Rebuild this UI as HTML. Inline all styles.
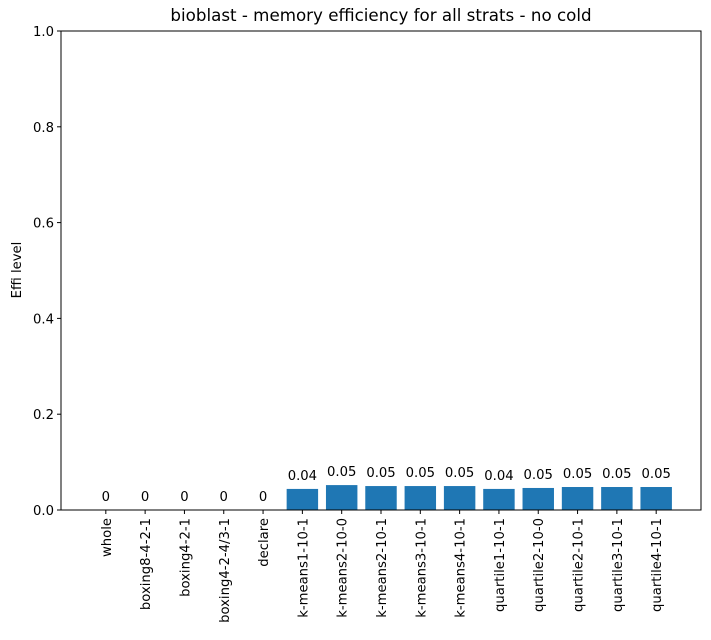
<!DOCTYPE html>
<html><head><meta charset="utf-8"><style>body{margin:0;background:#fff}svg{display:block;font-family:"DejaVu Sans","Liberation Sans",sans-serif}</style></head>
<body>
<svg id="chart" width="711" height="640">
<rect x="0" y="0" width="711" height="640" fill="#fff"/>
<text x="381" y="21" text-anchor="middle" font-size="16.7">bioblast - memory efficiency for all strats - no cold</text>
<text transform="translate(21,270) rotate(-90)" text-anchor="middle" font-size="13.2">Effi level</text>
<g id="bars"></g><g id="axes"></g>
</svg>
<script>
const categories = ["whole","boxing8-4-2-1","boxing4-2-1","boxing4-2-4/3-1","declare","k-means1-10-1","k-means2-10-0","k-means2-10-1","k-means3-10-1","k-means4-10-1","quartile1-10-1","quartile2-10-0","quartile2-10-1","quartile3-10-1","quartile4-10-1"];
const values = [0,0,0,0,0,0.044,0.052,0.050,0.050,0.050,0.044,0.046,0.048,0.048,0.048];
const labels = ["0","0","0","0","0","0.04","0.05","0.05","0.05","0.05","0.04","0.05","0.05","0.05","0.05"];
const yTicks = [0,0.2,0.4,0.6,0.8,1.0];
const yTickLabels = ["0.0","0.2","0.4","0.6","0.8","1.0"];

const L=61,R=701,T=31,B=510;
const xmin=-1.14,xmax=categories.length-1+1.14;
const x=i=>L+(i-xmin)/(xmax-xmin)*(R-L);
const bw=0.8*(R-L)/(xmax-xmin);
const y=v=>B-v*(B-T);
const NS="http://www.w3.org/2000/svg";
function mk(tag,attrs,parent,text){const e=document.createElementNS(NS,tag);for(const k in attrs)e.setAttribute(k,attrs[k]);if(text!==undefined)e.textContent=text;parent.appendChild(e);return e;}
const gb=document.getElementById('bars'),ga=document.getElementById('axes');
categories.forEach((c,i)=>{
  const r=mk('rect',{x:x(i)-bw/2,y:y(values[i]),width:bw,height:B-y(values[i]),fill:'#1f77b4'},gb);
  
  
  const t=mk('text',{x:x(i),y:y(values[i])-9,'text-anchor':'middle','font-size':13.2},gb,labels[i]);
  
  
  mk('line',{x1:x(i),x2:x(i),y1:B,y2:B+4,stroke:'#000'},ga);
  const xl=mk('text',{transform:`translate(${x(i)+5},${B+8}) rotate(-90)`,'text-anchor':'end','font-size':13.2},ga,c);
  
  
});
yTicks.forEach((v,i)=>{
  mk('line',{x1:L-4,x2:L,y1:y(v),y2:y(v),stroke:'#000'},ga);
  const t=mk('text',{x:L-7,y:y(v)+5,'text-anchor':'end','font-size':13.2},ga,yTickLabels[i]);
  
  
});
const f=mk('rect',{x:L,y:T,width:R-L,height:B-T,fill:'none',stroke:'#000','stroke-width':1},ga);


</script>
</body></html>
